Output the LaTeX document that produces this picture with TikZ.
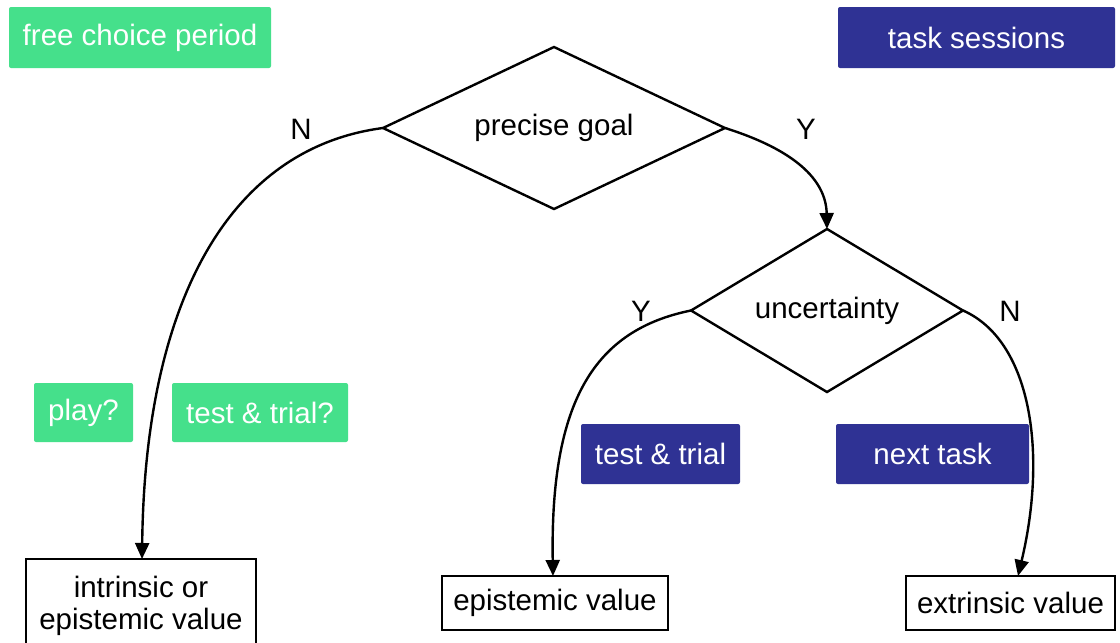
\documentclass[tikz,border=0pt]{standalone}
\usepackage{fontspec}
\setmainfont{Liberation Sans}
\usetikzlibrary{shapes.geometric,arrows.meta}
\definecolor{tgreen}{RGB}{69,224,139}
\definecolor{tblue}{RGB}{47,50,148}
\begin{document}
\begin{tikzpicture}[x=1pt,y=-1pt,
  every node/.style={font=\fontsize{29.5}{35}\selectfont},
  greenbox/.style={fill=tgreen,text=white,rounded corners=2pt,inner sep=0pt},
  bluebox/.style={fill=tblue,text=white,rounded corners=2pt,inner sep=0pt},
  outbox/.style={draw=black,line width=2.4pt,fill=white,inner sep=0pt,align=center},
  decision/.style={diamond,draw=black,line width=2.4pt,inner sep=0pt,outer sep=0pt,fill=white},
  flow/.style={line width=2.4pt,-{Triangle[length=16pt,width=14pt]}},
  lbl/.style={text=black}]
\useasboundingbox (0,0) rectangle (1120,643);
\fill[white] (0,0) rectangle (1120,643);
% category boxes
\node[greenbox,minimum width=262pt,minimum height=61pt] (free) at (140,37.5) {free choice period};
\node[bluebox,minimum width=277pt,minimum height=61pt] (task) at (976.5,37.5) {task sessions};
\node[greenbox,minimum width=99pt,minimum height=59pt] (play) at (83.5,412.5) {play?};
\node[greenbox,minimum width=176pt,minimum height=59pt] (ttq) at (260,412.5) {test \& trial?};
\node[bluebox,minimum width=159pt,minimum height=60pt] (tt) at (660.5,454) {test \& trial};
\node[bluebox,minimum width=193pt,minimum height=60pt] (next) at (932.5,454) {next task};
% decisions
\node[decision,shape aspect=2.1,minimum width=342pt,minimum height=162pt] (goal) at (554,128) {\raisebox{-2pt}{precise goal}};
\node[decision,shape aspect=1.67,minimum width=272pt,minimum height=163pt] (unc) at (827,310.5) {\raisebox{-2pt}{uncertainty}};
% outcomes
\node[outbox,minimum width=230pt,minimum height=94pt] (intr) at (141,606) {intrinsic or\\[-3pt]epistemic value};
\node[outbox,minimum width=226pt,minimum height=54pt] (epi) at (555,603) {epistemic value};
\node[outbox,minimum width=209pt,minimum height=54pt] (extr) at (1010.5,603) {extrinsic value};
% connectors
\coordinate (intrtip) at (142,559);
\coordinate (epitip) at (553,576);
\coordinate (extrtip) at (1018,576);
\draw[flow] (goal.west) .. controls (230,148) and (145,300) .. (intrtip);
\draw[flow] (goal.east) .. controls (795,150) and (826,180) .. (unc.north);
\draw[flow] (unc.west) .. controls (595,330) and (550,400) .. (epitip);
\draw[flow] (unc.east) .. controls (1030,340) and (1048,450) .. (extrtip);
% branch labels
\node[lbl] (n1) at (301,129) {N};
\node[lbl] (y1) at (806,129) {Y};
\node[lbl] (y2) at (641,311) {Y};
\node[lbl] (n2) at (1010,311) {N};
\end{tikzpicture}
\end{document}
